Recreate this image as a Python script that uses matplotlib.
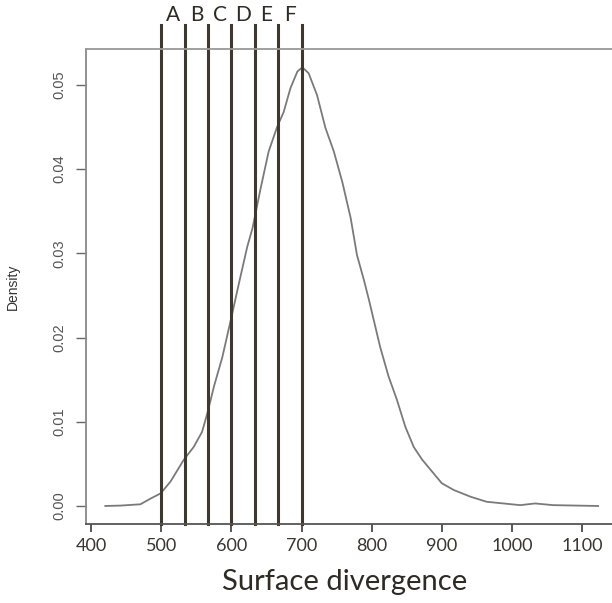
import numpy as np
import matplotlib
matplotlib.use("Agg")
import matplotlib.pyplot as plt

# density curve
dens_x = [420, 442, 470, 485, 499, 513, 532, 546, 558, 565.5, 575, 587, 599,
          610.5, 622.5, 630, 641.5, 653, 665, 674.5, 684, 694, 701, 710, 722,
          734, 746, 758, 770, 779, 789, 796, 812, 824, 836, 848, 860, 872, 884,
          900, 917, 941, 964, 1012, 1033, 1059, 1123]
dens_y = [0.0, 0.00005, 0.0002, 0.0009, 0.0015, 0.0029, 0.0055, 0.0070, 0.0088,
          0.0110, 0.0142, 0.0177, 0.0221, 0.0264, 0.0308, 0.0330, 0.0377, 0.0421,
          0.0450, 0.0468, 0.0496, 0.0516, 0.0521, 0.0514, 0.0488, 0.0449, 0.0421,
          0.0385, 0.0342, 0.0298, 0.0268, 0.0245, 0.0189, 0.0154, 0.0126, 0.0094,
          0.0070, 0.0055, 0.0043, 0.0027, 0.0019, 0.0011, 0.0005, 0.0001, 0.0003,
          0.0001, 0.0]

cut_points = [500, 533.3, 566.7, 600, 633.3, 666.7, 700]
cut_labels = ["A", "B", "C", "D", "E", "F"]

x_ticks = [400, 500, 600, 700, 800, 900, 1000, 1100]
y_ticks = [0.00, 0.01, 0.02, 0.03, 0.04, 0.05]

fig = plt.figure(figsize=(6.12, 6.03), dpi=100)
# box runs a little past the right edge, as in the original
ax = fig.add_axes([0.140, 0.131, 0.866, 0.787])

ax.plot(dens_x, dens_y, color="#7a7a7a", lw=1.3)
ax.set_xlim(392, 1148)
ax.set_ylim(-0.00214, 0.05422)

line_top = 1.052
for c in cut_points:
    ax.axvline(c, ymin=0, ymax=line_top, color="#3d392f", lw=2.2, clip_on=False)
for i, lab in enumerate(cut_labels):
    xm = (cut_points[i] + cut_points[i + 1]) / 2
    ax.text(xm, line_top, lab, transform=ax.get_xaxis_transform(),
            ha="center", va="bottom", fontsize=15, family="Lato", color="#2e2b25")

ax.set_xticks(x_ticks)
ax.set_xticklabels([str(v) for v in x_ticks], family="Lato", fontsize=13,
                   color="#3a3630")
ax.set_yticks(y_ticks)
ax.set_yticklabels(["%.2f" % v for v in y_ticks], rotation=90, va="center",
                   family="Liberation Sans", fontsize=10.5, color="#555555")
ax.tick_params(axis="x", length=6, width=1.3, color="#4a4a4a", pad=4)
ax.tick_params(axis="y", length=7, width=1.0, color="#666666", pad=7)

ax.spines["left"].set_color("#888888")
ax.spines["top"].set_color("#999999")
ax.spines["bottom"].set_color("#555555")
ax.spines["right"].set_visible(False)
for s in ax.spines.values():
    s.set_linewidth(1.3)

ax.set_xlabel("Surface divergence", family="Lato", fontsize=21, color="#2e2b25")
ax.xaxis.set_label_coords(0.489, -0.095)
ax.set_ylabel("Density", family="Liberation Sans", fontsize=10, color="#333333")
ax.yaxis.set_label_coords(-0.125, 0.5)

fig.savefig("out.png", dpi=100)
